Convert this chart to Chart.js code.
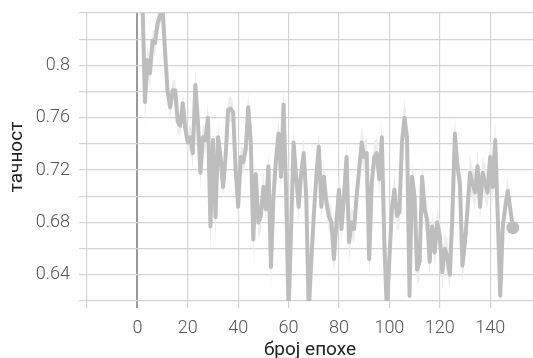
<!DOCTYPE html>
<html lang="sr">
<head>
    <meta charset="UTF-8">
    <title>тачност по епохама</title>
    <script src="https://cdn.jsdelivr.net/npm/chart.js"></script>
    <style>
        html, body { margin: 0; padding: 0; background: #fff; }
        #accChart { display: block; }
    </style>
</head>
<body>
    <canvas id="accChart" width="533" height="358"></canvas>

    <script>
        // тачност по епохи (0..149), очитано са слике
        const accuracy = [
            0.88, 0.87, 0.85, 0.772, 0.804, 0.794, 0.819, 0.817, 0.832, 0.838,
            0.843, 0.81, 0.78, 0.768, 0.781, 0.781, 0.757, 0.754, 0.771, 0.752,
            0.741, 0.745, 0.733, 0.785, 0.758, 0.718, 0.745, 0.743, 0.76, 0.677,
            0.743, 0.684, 0.745, 0.73, 0.707, 0.73, 0.766, 0.767, 0.764, 0.72,
            0.692, 0.73, 0.726, 0.736, 0.768, 0.741, 0.667, 0.717, 0.68, 0.685,
            0.707, 0.69, 0.723, 0.646, 0.70, 0.728, 0.748, 0.715, 0.77, 0.705,
            0.612, 0.675, 0.741, 0.715, 0.692, 0.718, 0.733, 0.70, 0.612, 0.65,
            0.685, 0.715, 0.738, 0.692, 0.715, 0.695, 0.685, 0.68, 0.652, 0.68,
            0.705, 0.675, 0.70, 0.73, 0.665, 0.68, 0.675, 0.70, 0.72, 0.741,
            0.73, 0.733, 0.652, 0.71, 0.73, 0.733, 0.713, 0.745, 0.665, 0.612,
            0.652, 0.69, 0.705, 0.685, 0.688, 0.741, 0.76, 0.745, 0.624, 0.715,
            0.70, 0.644, 0.65, 0.715, 0.69, 0.682, 0.65, 0.677, 0.657, 0.68,
            0.67, 0.642, 0.66, 0.654, 0.64, 0.685, 0.748, 0.723, 0.71, 0.647,
            0.665, 0.69, 0.718, 0.71, 0.703, 0.723, 0.692, 0.718, 0.71, 0.703,
            0.73, 0.707, 0.743, 0.685, 0.624, 0.677, 0.692, 0.704, 0.69, 0.676
        ];

        // ширина светлог појаса око линије
        const spread = [
            0.01, 0.01, 0.01, 0.02, 0.01, 0.012, 0.008, 0.01, 0.008, 0.008,
            0.008, 0.008, 0.01, 0.008, 0.008, 0.008, 0.01, 0.008, 0.008, 0.01,
            0.008, 0.01, 0.012, 0.012, 0.01, 0.012, 0.01, 0.01, 0.012, 0.022,
            0.01, 0.02, 0.01, 0.012, 0.01, 0.01, 0.008, 0.01, 0.008, 0.012,
            0.012, 0.01, 0.01, 0.01, 0.012, 0.01, 0.02, 0.01, 0.012, 0.012,
            0.012, 0.01, 0.012, 0.02, 0.01, 0.01, 0.012, 0.012, 0.016, 0.01,
            0.01, 0.012, 0.012, 0.012, 0.012, 0.01, 0.012, 0.01, 0.01, 0.012,
            0.012, 0.01, 0.012, 0.01, 0.012, 0.012, 0.012, 0.012, 0.012, 0.012,
            0.012, 0.012, 0.012, 0.012, 0.015, 0.012, 0.012, 0.012, 0.012, 0.014,
            0.012, 0.012, 0.018, 0.012, 0.012, 0.012, 0.012, 0.012, 0.016, 0.01,
            0.012, 0.012, 0.012, 0.012, 0.012, 0.014, 0.014, 0.014, 0.012, 0.014,
            0.012, 0.012, 0.014, 0.012, 0.012, 0.014, 0.012, 0.012, 0.014, 0.012,
            0.012, 0.014, 0.012, 0.014, 0.012, 0.012, 0.014, 0.012, 0.012, 0.014,
            0.012, 0.012, 0.014, 0.012, 0.014, 0.012, 0.012, 0.012, 0.014, 0.012,
            0.012, 0.014, 0.016, 0.012, 0.014, 0.012, 0.012, 0.01, 0.008, 0.006
        ];

        const epochs = accuracy.map((v, i) => i);
        const xTicks = [-20, 0, 20, 40, 60, 80, 100, 120, 140];
        const yTicks = [0.62, 0.64, 0.66, 0.68, 0.70, 0.72, 0.74, 0.76, 0.78, 0.80, 0.82, 0.84];
        const yLabeled = [0.64, 0.68, 0.72, 0.76, 0.80];

        const lineColor = "#bdbdbd";
        const bandColor = "#ededed";
        const gridColor = "#d4d4d4";

        const mainPts = epochs.map((e, i) => ({ x: e, y: accuracy[i] }));
        const upperPts = epochs.map((e, i) => ({ x: e, y: accuracy[i] + spread[i] }));
        const lowerPts = epochs.map((e, i) => ({ x: e, y: accuracy[i] - spread[i] }));
        const last = epochs.length - 1;

        Chart.defaults.font.family = "Roboto, 'Noto Sans', sans-serif";
        Chart.defaults.font.weight = 300;

        new Chart(document.getElementById("accChart"), {
            type: "line",
            data: {
                datasets: [
                    {
                        data: mainPts,
                        borderColor: lineColor,
                        backgroundColor: lineColor,
                        borderWidth: 4,
                        borderJoinStyle: "round",
                        pointRadius: ctx => ctx.dataIndex === last ? 6.5 : 0,
                        pointBorderWidth: 0,
                        fill: false,
                        clip: 0,
                        order: 0
                    },
                    {
                        data: upperPts,
                        borderWidth: 0,
                        pointRadius: 0,
                        backgroundColor: bandColor,
                        fill: "+1",
                        clip: 0,
                        order: 1
                    },
                    {
                        data: lowerPts,
                        borderWidth: 0,
                        pointRadius: 0,
                        fill: false,
                        clip: 0,
                        order: 2
                    }
                ]
            },
            options: {
                responsive: false,
                animation: false,
                layout: {
                    autoPadding: false,
                    padding: { top: 13, right: 0, left: 0, bottom: 0 }
                },
                plugins: {
                    legend: { display: false },
                    tooltip: { enabled: false }
                },
                scales: {
                    x: {
                        type: "linear",
                        min: -20,
                        max: 157,
                        afterBuildTicks: s => { s.ticks = xTicks.map(v => ({ value: v })); },
                        afterFit: s => {
                            s.height = 57;
                            s.paddingLeft = 0;
                            s.paddingRight = 0;
                        },
                        border: { display: false },
                        grid: {
                            color: c => c.tick && c.tick.value === 0 ? "#9a9a9a" : gridColor,
                            lineWidth: c => c.tick && c.tick.value === 0 ? 2 : 1.2,
                            tickLength: 7
                        },
                        ticks: {
                            color: "#555",
                            font: { size: 18 },
                            padding: 10,
                            maxRotation: 0,
                            callback: v => v < 0 ? "" : v
                        },
                        title: {
                            display: true,
                            text: "број епохе",
                            color: "#222",
                            font: { size: 19, lineHeight: 0.8, weight: 400 },
                            padding: { top: 0, bottom: 0 }
                        }
                    },
                    y: {
                        min: 0.62,
                        max: 0.84,
                        afterBuildTicks: s => { s.ticks = yTicks.map(v => ({ value: v })); },
                        afterFit: s => {
                            s.width = 87;
                            s.paddingTop = 0;
                            s.paddingBottom = 0;
                        },
                        border: { display: false },
                        grid: {
                            color: gridColor,
                            lineWidth: 1.2,
                            tickLength: 8
                        },
                        ticks: {
                            color: "#555",
                            font: { size: 18 },
                            padding: 9,
                            callback: v => yLabeled.some(t => Math.abs(t - v) < 1e-6) ? String(+v.toFixed(2)) : ""
                        },
                        title: {
                            display: true,
                            text: "тачност",
                            color: "#222",
                            font: { size: 19, lineHeight: 1, weight: 400 },
                            padding: { top: 8, bottom: 0 }
                        }
                    }
                }
            }
        });
    </script>
</body>
</html>
